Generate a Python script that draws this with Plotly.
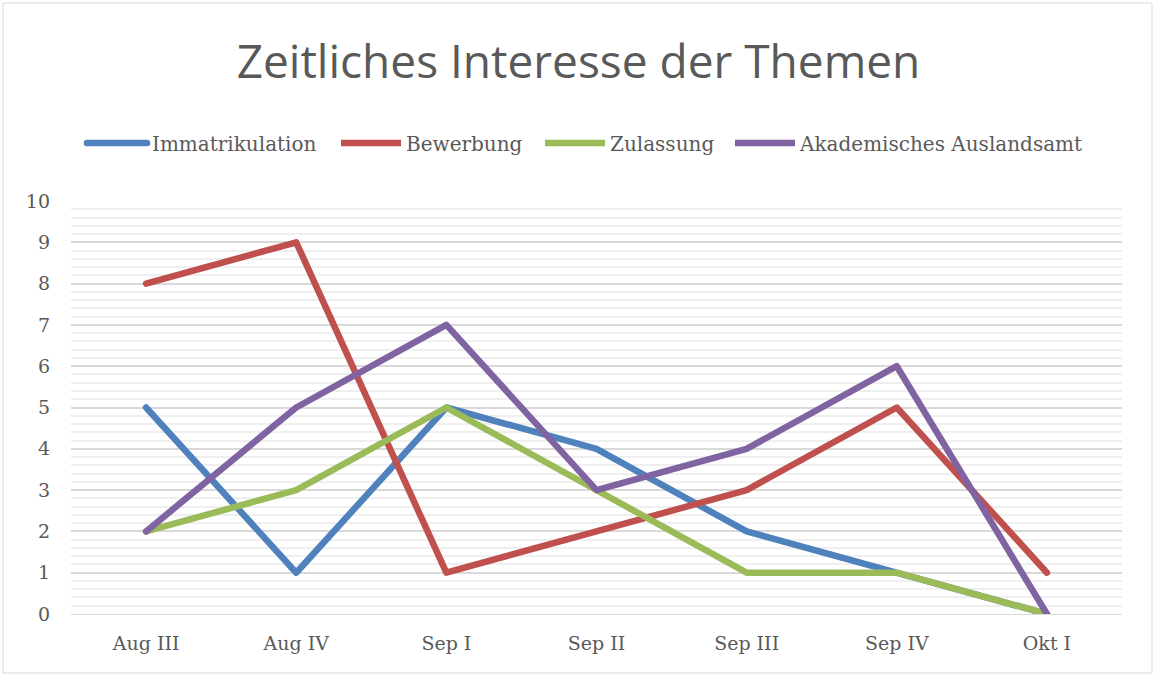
import plotly.graph_objects as go

categories = ["Aug III", "Aug IV", "Sep I", "Sep II", "Sep III", "Sep IV", "Okt I"]
immatrikulation = [5, 1, 5, 4, 2, 1, 0]
bewerbung = [8, 9, 1, 2, 3, 5, 1]
zulassung = [2, 3, 5, 3, 1, 1, 0]
auslandsamt = [2, 5, 7, 3, 4, 6, 0]

series = [
    ("Immatrikulation", immatrikulation, "#4F81BD"),
    ("Bewerbung", bewerbung, "#C0504D"),
    ("Zulassung", zulassung, "#9BBB59"),
    ("Akademisches Auslandsamt", auslandsamt, "#8064A2"),
]

W, H = 1157, 675
L, R, T, B = 71, 35, 201, 61
pw, ph = W - L - R, H - T - B

legend_names = ["legend", "legend2", "legend3", "legend4"]
legend_px = [88, 342, 546, 736]

fig = go.Figure()
for (name, vals, col), lg in zip(series, legend_names):
    fig.add_trace(go.Scatter(x=categories, y=vals, name=name, mode="lines", legend=lg,
                             line=dict(color=col, width=6.5)))

legend_font = dict(family="DejaVu Serif", size=20, color="#595959")
legends = {}
for lg, px in zip(legend_names, legend_px):
    legends[lg] = dict(orientation="h", x=(px - 6 - L) / pw, xanchor="left",
                       y=1 + (T - 143) / ph, yanchor="middle", font=legend_font,
                       itemwidth=60, bgcolor="rgba(0,0,0,0)")

fig.update_layout(
    width=W, height=H,
    margin=dict(l=L, r=R, t=T, b=B),
    paper_bgcolor="white", plot_bgcolor="white",
    title=dict(text="Zeitliches Interesse der Themen", x=0.5, xanchor="center",
               y=1 - 62 / H, yanchor="middle",
               font=dict(family="Open Sans", size=46, color="#595959")),
    xaxis=dict(showgrid=False, showline=True, linecolor="#d9d9d9", linewidth=1,
               tickfont=dict(family="DejaVu Serif", size=19, color="#595959"),
               ticks="", ticklabelstandoff=12, range=[-0.5, 6.5]),
    yaxis=dict(range=[0, 10], dtick=1, showgrid=True, gridcolor="#d9d9d9", gridwidth=1.5,
               zeroline=False,
               minor=dict(dtick=0.2, showgrid=True, gridcolor="#efefef", gridwidth=1.5),
               tickfont=dict(family="DejaVu Serif", size=19, color="#595959"),
               ticks="", ticklabelstandoff=20),
    showlegend=True,
    **legends,
)

fig.add_shape(type="rect", xref="paper", yref="paper",
              x0=(3 - L) / pw, x1=(1152 - L) / pw,
              y0=-(673 - (H - B)) / ph, y1=1 + (T - 3) / ph,
              line=dict(color="#d9d9d9", width=1), layer="below")

post = (
    "document.body.style.margin='0';"
    "document.querySelectorAll('.scatterlayer path.js-line, .legend path.js-line')"
    ".forEach(function(p){p.style.strokeLinejoin='round';p.style.strokeLinecap='round';});"
)
fig.write_html("out.html", post_script=post, config={"displayModeBar": False})
